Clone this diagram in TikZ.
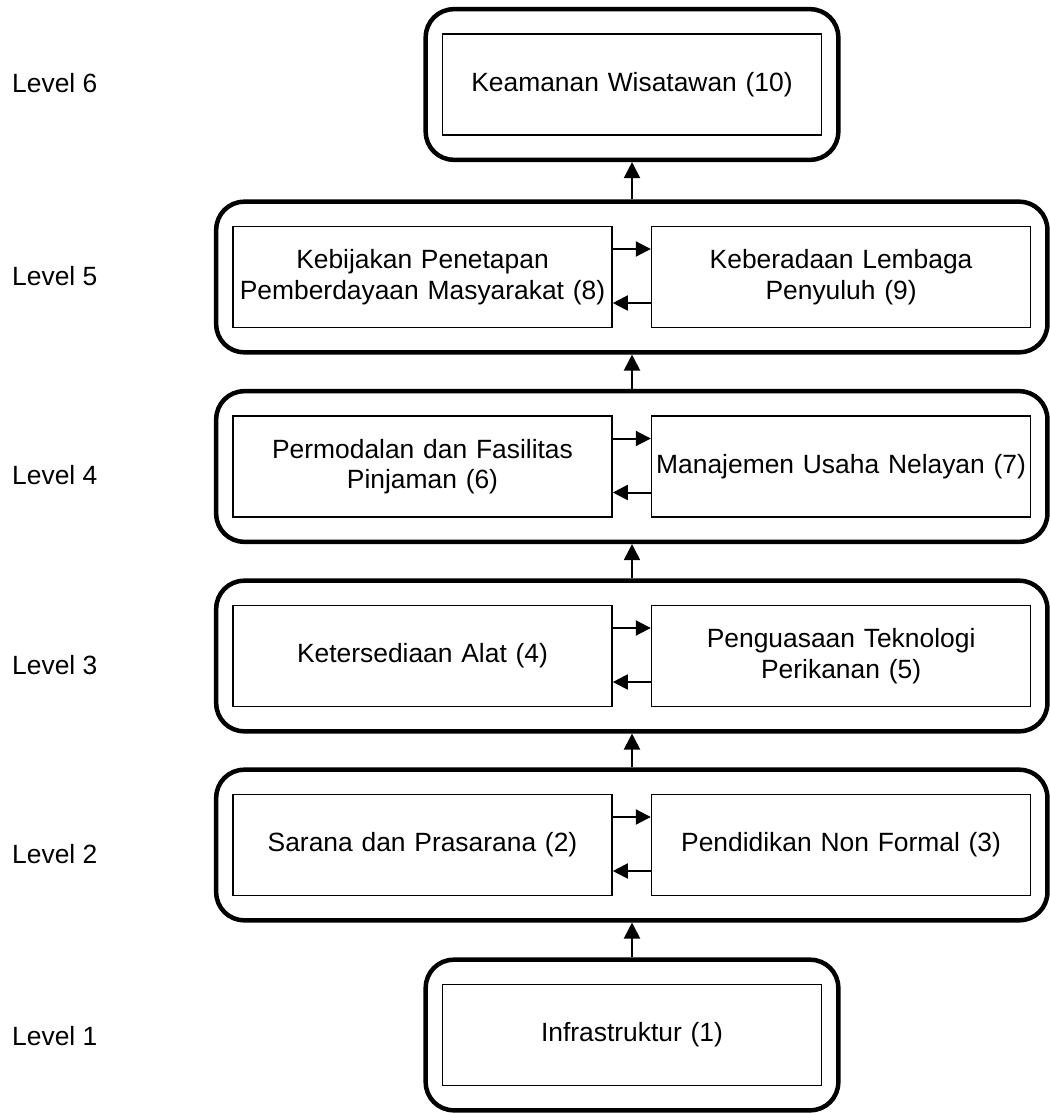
\documentclass[tikz,border=0pt]{standalone}
\usepackage{fontspec}
\setmainfont{Liberation Sans}
\usepackage{tikz}
\usetikzlibrary{arrows.meta,positioning,fit}

\begin{document}
\begin{tikzpicture}[x=1pt,y=-1pt,
  box/.style={draw,line width=1.6pt,minimum width=379pt,minimum height=101pt,text width=370pt,inner sep=4.5pt,align=center,font=\fontsize{26.4}{30.4}\selectfont},
  lev/.style={draw,line width=4.5pt,rounded corners=28pt,inner xsep=16pt,inner ysep=24pt},
  lab/.style={anchor=base west,inner sep=0pt,font=\fontsize{26.4}{30.4}\selectfont},
  up/.style={-{Triangle[length=16pt,width=16pt]},line width=2pt},
  side/.style={-{Triangle[length=15pt,width=15pt]},line width=2pt}]
\useasboundingbox (0,0) rectangle (1049,1113);

\node[box] (K10) at (632,84.5) {Keamanan Wisatawan (10)};
\node[box] (K8) at (422.5,277) {Kebijakan Penetapan\\Pemberdayaan Masyarakat (8)};
\node[box] (K9) [right=38pt of K8] {Keberadaan Lembaga\\Penyuluh (9)};
\node[box] (K6) at (422.5,466.5) {Permodalan dan Fasilitas\\Pinjaman (6)};
\node[box] (K7) [right=38pt of K6] {Manajemen Usaha Nelayan (7)};
\node[box] (K4) at (422.5,656) {Ketersediaan Alat (4)};
\node[box] (K5) [right=38pt of K4] {Penguasaan Teknologi\\Perikanan (5)};
\node[box] (K2) at (422.5,845) {Sarana dan Prasarana (2)};
\node[box] (K3) [right=38pt of K2] {Pendidikan Non Formal (3)};
\node[box] (K1) at (632,1035) {Infrastruktur (1)};

\node[lev,fit=(K10)] (L6) {};
\node[lev,fit=(K8)(K9)] (L5) {};
\node[lev,fit=(K6)(K7)] (L4) {};
\node[lev,fit=(K4)(K5)] (L3) {};
\node[lev,fit=(K2)(K3)] (L2) {};
\node[lev,fit=(K1)] (L1) {};

\node[lab] (T6) at (12,93) {Level 6};
\node[lab] (T5) at (12,285) {Level 5};
\node[lab] (T4) at (12,484) {Level 4};
\node[lab] (T3) at (12,674) {Level 3};
\node[lab] (T2) at (12,863) {Level 2};
\node[lab] (T1) at (12,1045) {Level 1};

\draw[up] (L1.north) -- (L1.north |- L2.south);
\draw[up] (L1.north |- L2.north) -- (L1.north |- L3.south);
\draw[up] (L1.north |- L3.north) -- (L1.north |- L4.south);
\draw[up] (L1.north |- L4.north) -- (L1.north |- L5.south);
\draw[up] (L1.north |- L5.north) -- (L6.south);

\foreach \a/\b in {K8/K9,K6/K7,K4/K5,K2/K3} {
  \draw[side] ([yshift=28pt]\a.east) -- ([yshift=28pt]\b.west);
  \draw[side] ([yshift=-26pt]\b.west) -- ([yshift=-26pt]\a.east);
}
\end{tikzpicture}
\end{document}
